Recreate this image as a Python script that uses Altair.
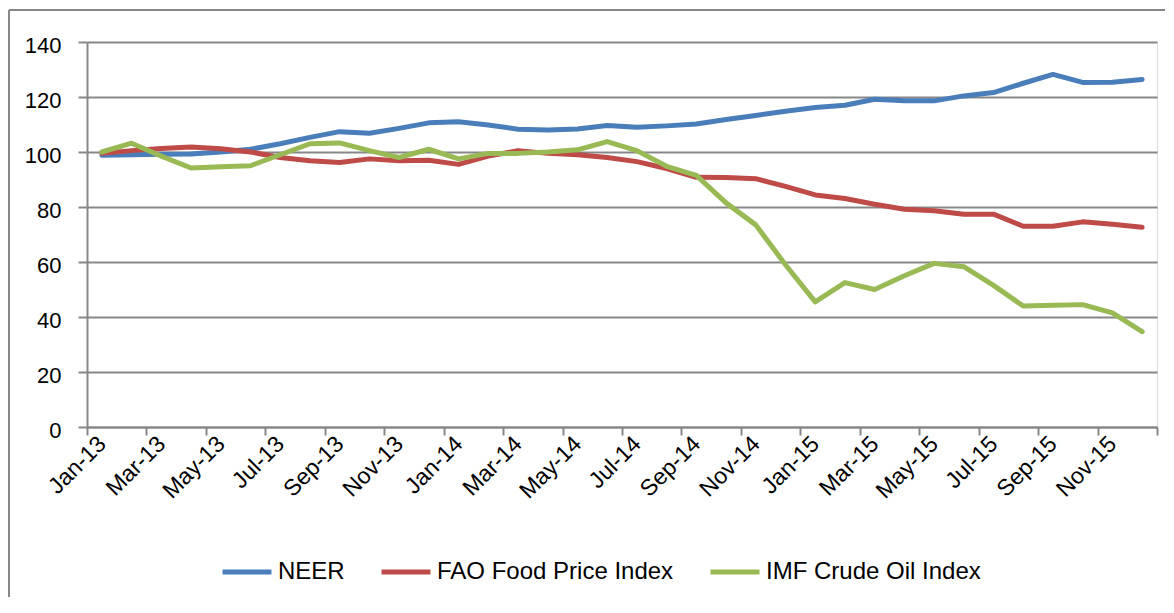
import altair as alt
import pandas as pd

months = [
    "Jan-13", "Feb-13", "Mar-13", "Apr-13", "May-13", "Jun-13",
    "Jul-13", "Aug-13", "Sep-13", "Oct-13", "Nov-13", "Dec-13",
    "Jan-14", "Feb-14", "Mar-14", "Apr-14", "May-14", "Jun-14",
    "Jul-14", "Aug-14", "Sep-14", "Oct-14", "Nov-14", "Dec-14",
    "Jan-15", "Feb-15", "Mar-15", "Apr-15", "May-15", "Jun-15",
    "Jul-15", "Aug-15", "Sep-15", "Oct-15", "Nov-15", "Dec-15",
]

neer = [98.8, 99.0, 99.2, 99.3, 100.0, 101.0, 103.0, 105.3, 107.4, 106.8, 108.6, 110.6,
        111.0, 109.8, 108.3, 108.0, 108.4, 109.6, 109.0, 109.5, 110.2, 111.8, 113.3, 114.8,
        116.2, 117.0, 119.2, 118.6, 118.6, 120.4, 121.6, 125.0, 128.2, 125.3, 125.4, 126.4]

fao = [99.5, 100.5, 101.3, 101.8, 101.2, 100.0, 98.0, 96.8, 96.2, 97.5, 96.8, 97.0,
       95.5, 98.5, 100.5, 99.5, 99.0, 98.0, 96.5, 94.0, 90.8, 90.7, 90.3, 87.5,
       84.4, 83.1, 81.0, 79.2, 78.6, 77.4, 77.4, 73.0, 73.0, 74.6, 73.7, 72.6]

imf = [100.0, 103.2, 98.5, 94.2, 94.6, 95.0, 99.0, 103.0, 103.3, 100.5, 98.0, 101.0,
       97.5, 99.5, 99.5, 100.0, 100.8, 103.8, 100.5, 94.8, 91.5, 81.5, 73.5, 59.0,
       45.5, 52.5, 50.0, 55.0, 59.5, 58.3, 51.5, 44.0, 44.3, 44.5, 41.5, 34.7]

series_names = ["NEER", "FAO Food Price Index", "IMF Crude Oil Index"]
series_colors = ["#4A7EBB", "#BE4B48", "#98B954"]
y_ticks = [0, 20, 40, 60, 80, 100, 120, 140]

rows = []
for i, m in enumerate(months):
    for name, vals in zip(series_names, [neer, fao, imf]):
        rows.append({"idx": i, "month": m, "series": name, "value": vals[i]})
df = pd.DataFrame(rows)

W, H = 1070, 385
n = len(months)
tick_vals = [i - 0.5 for i in range(0, n + 1, 2)]
label_arr = "[" + ",".join("'" + m + "'" for m in months) + "]"
label_expr = f"datum.value + 0.5 < {n} ? {label_arr}[datum.value + 0.5] : ''"

GRAY = "#878787"
FONT = "Liberation Sans"

lines = alt.Chart(df).mark_line(strokeWidth=5, strokeCap="round", strokeJoin="round").encode(
    x=alt.X("idx:Q",
            scale=alt.Scale(domain=[-0.5, n - 0.5], nice=False, zero=False),
            axis=alt.Axis(values=tick_vals, labelExpr=label_expr, title=None,
                          labelAngle=-45, labelAlign="right", labelBaseline="middle",
                          labelOffset=W / n / 2, labelPadding=5, labelFontSize=23,
                          labelFont=FONT, labelColor="#000000", grid=False,
                          tickSize=8, tickWidth=2, tickColor=GRAY,
                          domainColor=GRAY, domainWidth=2, labelOverlap=False,
                          labelFlush=False, labelBound=False)),
    y=alt.Y("value:Q",
            scale=alt.Scale(domain=[0, 140], nice=False),
            axis=alt.Axis(values=y_ticks, title=None, labelFontSize=22, labelFont=FONT,
                          labelColor="#000000", labelPadding=17, labelOffset=3,
                          grid=True, gridColor=GRAY, gridWidth=2,
                          tickSize=9, tickWidth=2, tickColor=GRAY,
                          domainColor=GRAY, domainWidth=2)),
    color=alt.Color("series:N",
                    scale=alt.Scale(domain=series_names, range=series_colors),
                    legend=alt.Legend(title=None, orient="none", direction="horizontal",
                                      legendX=133, legendY=503,
                                      symbolType="stroke", symbolSize=2400,
                                      symbolStrokeWidth=5, labelFontSize=24,
                                      labelFont=FONT, labelColor="#000000",
                                      columnPadding=26, labelOffset=4,
                                      labelLimit=400)),
)

frame_src = alt.Data(values=[{"k": 1}])
top_rule = alt.Chart(frame_src).mark_rule(color=GRAY, strokeWidth=2).encode(
    x=alt.value(-78), x2=alt.value(W + 8), y=alt.value(-32))
left_rule = alt.Chart(frame_src).mark_rule(color=GRAY, strokeWidth=2).encode(
    x=alt.value(-78), y=alt.value(-32), y2=alt.value(H + 200))

chart = alt.layer(lines, top_rule, left_rule).properties(
    width=W, height=H,
    autosize=alt.AutoSizeParams(type="none"),
    padding={"left": 79, "top": 34, "right": 9, "bottom": 170},
).configure_view(stroke=None).configure(background="white")

chart.save("out.html", embed_options={"renderer": "svg", "actions": False})
